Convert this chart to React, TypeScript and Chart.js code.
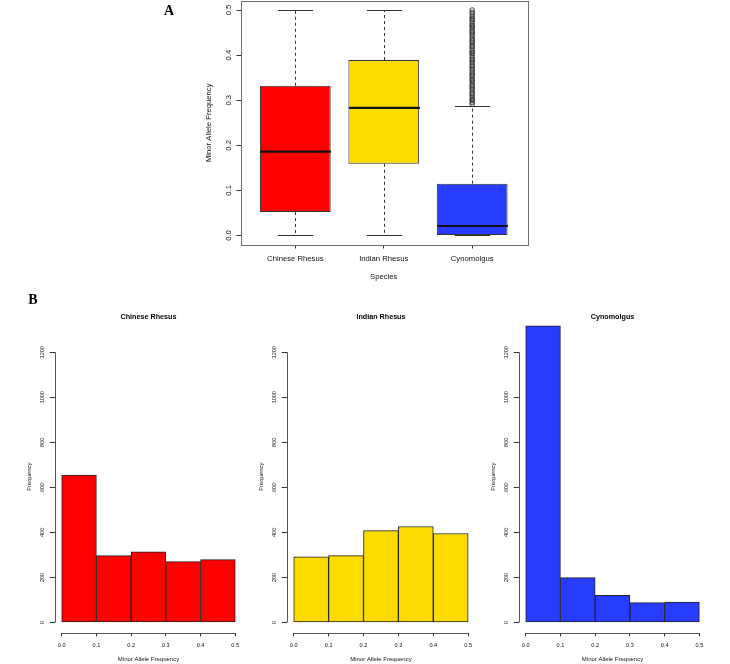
import React, { useEffect, useRef } from 'react';
import { Chart, registerables } from 'chart.js';

Chart.register(...registerables);

const SANS = "'Liberation Sans', Arial, Helvetica, sans-serif";
const SERIF = "'Liberation Serif', 'Times New Roman', serif";

// ---------- Panel A : box plot ----------
const species = ['Chinese Rhesus', 'Indian Rhesus', 'Cynomolgus'];
const speciesColors = ['#ff0000', '#fcdc00', '#283cff'];
const whiskerLow = [0.0, 0.0, 0.0];
const lowerQuartile = [0.052, 0.159, 0.001];
const medianMaf = [0.186, 0.283, 0.021];
const upperQuartile = [0.332, 0.389, 0.115];
const whiskerHigh = [0.5, 0.5, 0.288];
const cynoOutliers = [
  0.291, 0.295, 0.299, 0.302, 0.306, 0.311, 0.314, 0.318, 0.323, 0.327,
  0.331, 0.334, 0.339, 0.343, 0.346, 0.351, 0.355, 0.358, 0.362, 0.367,
  0.371, 0.375, 0.378, 0.383, 0.387, 0.39, 0.394, 0.399, 0.403, 0.406,
  0.41, 0.415, 0.419, 0.422, 0.427, 0.431, 0.434, 0.438, 0.443, 0.447,
  0.451, 0.454, 0.459, 0.463, 0.466, 0.47, 0.475, 0.479, 0.482, 0.486,
  0.491, 0.495, 0.5,
];
const mafTicks = [0, 0.1, 0.2, 0.3, 0.4, 0.5];
const mafTickLabels = ['0.0', '0.1', '0.2', '0.3', '0.4', '0.5'];

// ---------- Panel B : histograms ----------
const binEdges = [0, 0.1, 0.2, 0.3, 0.4, 0.5];
const binTickLabels = ['0.0', '0.1', '0.2', '0.3', '0.4', '0.5'];
const chineseCounts = [655, 297, 314, 270, 279];
const indianCounts = [292, 297, 408, 426, 395];
const cynoCounts = [1317, 199, 121, 88, 91];
const freqTicks = [0, 200, 400, 600, 800, 1000, 1200];
const freqTickLabels = ['0', '200', '400', '600', '800', '1000', '1200'];

const noPad = (s: any) => {
  s.paddingTop = 0;
  s.paddingBottom = 0;
  s.paddingLeft = 0;
  s.paddingRight = 0;
};

function BoxPanel() {
  const ref = useRef<HTMLCanvasElement>(null);
  useEffect(() => {
    const canvas = ref.current!;
    const boxExtras = {
      id: 'boxExtras',
      afterDatasetsDraw(chart: any) {
        const { ctx, chartArea, scales } = chart;
        const x = scales.x;
        const y = scales.y;
        const meta = chart.getDatasetMeta(0);
        ctx.save();
        species.forEach((_, i) => {
          const bar: any = meta.data[i];
          const cx = Math.round(x.getPixelForValue(i + 1)) + 0.5;
          const half = bar.width / 2;
          const yHi = Math.round(y.getPixelForValue(whiskerHigh[i])) + 0.5;
          const yLo = Math.round(y.getPixelForValue(whiskerLow[i])) + 0.5;
          const yQ3 = y.getPixelForValue(upperQuartile[i]);
          const yQ1 = y.getPixelForValue(lowerQuartile[i]);
          const yMed = y.getPixelForValue(medianMaf[i]);
          ctx.strokeStyle = '#333';
          ctx.lineWidth = 1;
          ctx.setLineDash([3, 3]);
          ctx.beginPath();
          ctx.moveTo(cx, yQ3);
          ctx.lineTo(cx, yHi);
          ctx.moveTo(cx, yQ1);
          ctx.lineTo(cx, yLo);
          ctx.stroke();
          ctx.setLineDash([]);
          ctx.beginPath();
          ctx.moveTo(cx - half / 2, yHi);
          ctx.lineTo(cx + half / 2, yHi);
          ctx.moveTo(cx - half / 2, yLo);
          ctx.lineTo(cx + half / 2, yLo);
          ctx.stroke();
          ctx.strokeStyle = '#111';
          ctx.lineWidth = 2.2;
          ctx.beginPath();
          ctx.moveTo(cx - half, yMed);
          ctx.lineTo(cx + half, yMed);
          ctx.stroke();
        });
        ctx.strokeStyle = '#707070';
        ctx.lineWidth = 1;
        ctx.strokeRect(
          Math.round(chartArea.left) + 0.5,
          Math.round(chartArea.top) + 0.5,
          Math.round(chartArea.right - chartArea.left),
          Math.round(chartArea.bottom - chartArea.top)
        );
        ctx.fillStyle = '#000';
        ctx.font = `bold 14px ${SERIF}`;
        ctx.textAlign = 'center';
        ctx.textBaseline = 'middle';
        ctx.fillText('A', 19, 11);
        ctx.restore();
      },
    };
    const chart = new Chart(canvas, {
      type: 'bar',
      data: {
        datasets: [
          {
            type: 'bar',
            data: species.map((_, i) => ({ x: i + 1, y: [lowerQuartile[i], upperQuartile[i]] })) as any,
            backgroundColor: speciesColors,
            borderColor: '#333',
            borderWidth: 1,
            borderSkipped: false,
            categoryPercentage: 0.8,
            barPercentage: 1,
          } as any,
          {
            type: 'scatter',
            data: cynoOutliers.map((v) => ({ x: 3, y: v })),
            pointStyle: 'circle',
            pointRadius: 2.3,
            pointBorderWidth: 0.8,
            borderColor: '#222',
            pointBorderColor: '#222',
            backgroundColor: 'rgba(0,0,0,0)',
            pointBackgroundColor: 'rgba(0,0,0,0)',
            showLine: false,
          } as any,
        ],
      },
      options: {
        animation: false,
        responsive: false,
        devicePixelRatio: 1,
        events: [],
        layout: { autoPadding: false, padding: { left: 0, right: 13, top: 1, bottom: 0 } },
        plugins: { legend: { display: false }, tooltip: { enabled: false }, title: { display: false } },
        scales: {
          x: {
            type: 'linear',
            min: 0.38,
            max: 3.62,
            offset: false,
            afterBuildTicks: (s: any) => {
              s.ticks = species.map((_, i) => ({ value: i + 1 }));
            },
            afterFit: (s: any) => {
              s.height = 45.5;
              noPad(s);
            },
            ticks: {
              callback: (v: any) => species[Math.round(Number(v)) - 1],
              font: { family: SANS, size: 7.7 },
              color: '#111',
              padding: 5.9,
              maxRotation: 0,
              minRotation: 0,
              autoSkip: false,
            },
            grid: { display: true, drawOnChartArea: false, drawTicks: true, tickLength: 4, color: '#333', offset: false },
            border: { display: false },
            title: {
              display: true,
              text: 'Species',
              font: { family: SANS, size: 7.7 },
              color: '#111',
              padding: { top: 0, bottom: 8.4 },
            },
          },
          y: {
            type: 'linear',
            min: -0.02,
            max: 0.52,
            afterBuildTicks: (s: any) => {
              s.ticks = mafTicks.map((v) => ({ value: v }));
            },
            afterFit: (s: any) => {
              s.width = 90.5;
              noPad(s);
            },
            ticks: {
              callback: (_v: any, i: number) => mafTickLabels[i],
              font: { family: SANS, size: 7.7 },
              color: '#111',
              minRotation: 90,
              maxRotation: 90,
              crossAlign: 'center',
              padding: 2.5,
              autoSkip: false,
            },
            grid: { display: true, drawOnChartArea: false, drawTicks: true, tickLength: 4, color: '#333' },
            border: { display: false },
            title: {
              display: true,
              text: 'Minor Allele Frequency',
              font: { family: SANS, size: 7.7 },
              color: '#111',
              padding: { top: 54.4, bottom: 0 },
            },
          },
        },
      } as any,
      plugins: [boxExtras],
    });
    return () => chart.destroy();
  }, []);
  return (
    <canvas
      ref={ref}
      width={390}
      height={290}
      style={{ position: 'absolute', left: 150, top: 0, width: 390, height: 290 }}
    />
  );
}

type HistProps = {
  left: number;
  plotWidth: number;
  title: string;
  counts: number[];
  color: string;
  letter?: string;
};

function HistPanel({ left, plotWidth, title, counts, color, letter }: HistProps) {
  const ref = useRef<HTMLCanvasElement>(null);
  useEffect(() => {
    const canvas = ref.current!;
    const histExtras = {
      id: 'histExtras',
      afterDatasetsDraw(chart: any) {
        const { ctx, chartArea, scales } = chart;
        const x = scales.x;
        const y = scales.y;
        ctx.save();
        ctx.strokeStyle = '#555';
        ctx.lineWidth = 1;
        const ax = Math.round(chartArea.left) + 0.5;
        const ay = Math.round(chartArea.bottom) + 0.5;
        ctx.beginPath();
        ctx.moveTo(ax, y.getPixelForValue(freqTicks[0]));
        ctx.lineTo(ax, y.getPixelForValue(freqTicks[freqTicks.length - 1]));
        ctx.moveTo(x.getPixelForValue(binEdges[0]), ay);
        ctx.lineTo(x.getPixelForValue(binEdges[binEdges.length - 1]), ay);
        ctx.stroke();
        ctx.fillStyle = '#000';
        ctx.textAlign = 'center';
        ctx.textBaseline = 'middle';
        ctx.font = `bold 7.2px ${SANS}`;
        ctx.fillText(title, (chartArea.left + chartArea.right) / 2, 32.5);
        if (letter) {
          ctx.font = `bold 14px ${SERIF}`;
          ctx.fillText(letter, 33, 15);
        }
        ctx.restore();
      },
    };
    const chart = new Chart(canvas, {
      type: 'bar',
      data: {
        datasets: [
          {
            data: counts.map((c, i) => ({ x: (binEdges[i] + binEdges[i + 1]) / 2, y: c })) as any,
            backgroundColor: color,
            borderColor: '#222',
            borderWidth: 1,
            borderSkipped: false,
            categoryPercentage: 1,
            barPercentage: 1,
          } as any,
        ],
      },
      options: {
        animation: false,
        responsive: false,
        devicePixelRatio: 1,
        events: [],
        layout: { autoPadding: false, padding: { left: 0, right: 250 - 54.75 - plotWidth, top: 35, bottom: 0 } },
        plugins: { legend: { display: false }, tooltip: { enabled: false }, title: { display: false } },
        scales: {
          x: {
            type: 'linear',
            min: -0.02,
            max: 0.52,
            offset: false,
            afterBuildTicks: (s: any) => {
              s.ticks = binEdges.map((v) => ({ value: v }));
            },
            afterFit: (s: any) => {
              s.height = 30.7;
              noPad(s);
            },
            ticks: {
              callback: (_v: any, i: number) => binTickLabels[i],
              font: { family: SANS, size: 5.6 },
              color: '#111',
              padding: 5.3,
              maxRotation: 0,
              minRotation: 0,
              autoSkip: false,
            },
            grid: { display: true, drawOnChartArea: false, drawTicks: true, tickLength: 3, color: '#333', offset: false },
            border: { display: false },
            title: {
              display: true,
              text: 'Minor Allele Frequency',
              font: { family: SANS, size: 6 },
              color: '#111',
              padding: { top: 0, bottom: 1.4 },
            },
          },
          y: {
            type: 'linear',
            min: -48,
            max: 1343,
            afterBuildTicks: (s: any) => {
              s.ticks = freqTicks.map((v) => ({ value: v }));
            },
            afterFit: (s: any) => {
              s.width = 54.75;
              noPad(s);
            },
            ticks: {
              callback: (_v: any, i: number) => freqTickLabels[i],
              font: { family: SANS, size: 5.6 },
              color: '#111',
              minRotation: 90,
              maxRotation: 90,
              crossAlign: 'center',
              padding: 1,
              autoSkip: false,
            },
            grid: { display: true, drawOnChartArea: false, drawTicks: true, tickLength: 5, color: '#333' },
            border: { display: false },
            title: {
              display: true,
              text: 'Frequency',
              font: { family: SANS, size: 6 },
              color: '#111',
              padding: { top: 25.7, bottom: 0 },
            },
          },
        },
      } as any,
      plugins: [histExtras],
    });
    return () => chart.destroy();
  }, []);
  return (
    <canvas
      ref={ref}
      width={250}
      height={379}
      style={{ position: 'absolute', left, top: 285, width: 250, height: 379 }}
    />
  );
}

export default function App() {
  return (
    <div
      style={{
        position: 'absolute',
        left: 0,
        top: 0,
        width: 730,
        height: 664,
        background: '#fff',
        overflow: 'hidden',
      }}
    >
      <BoxPanel />
      <HistPanel left={0} plotWidth={187.45} title="Chinese Rhesus" counts={chineseCounts} color={speciesColors[0]} letter="B" />
      <HistPanel left={231.55} plotWidth={188.4} title="Indian Rhesus" counts={indianCounts} color={speciesColors[1]} />
      <HistPanel left={464.3} plotWidth={187.55} title="Cynomolgus" counts={cynoCounts} color={speciesColors[2]} />
    </div>
  );
}
